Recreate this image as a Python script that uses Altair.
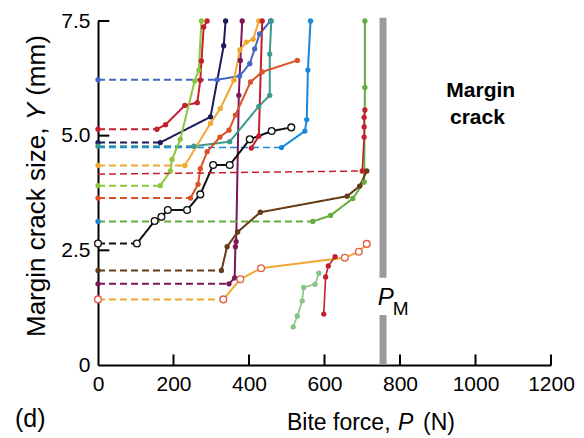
import altair as alt
import pandas as pd

# Bite force P (N) and margin crack size Y (mm) for each specimen.
# Series that start on the axis: the first segment (P = 0 to crack pop-in) is dashed.
blue_P = [0, 316, 375, 402, 415, 428, 457]
blue_Y = [6.22, 6.22, 6.30, 6.57, 6.89, 7.22, 7.50]

red_a_P = [0, 156, 179, 230, 263, 271, 274, 280, 289]
red_a_Y = [5.14, 5.14, 5.24, 5.66, 5.72, 6.21, 6.63, 7.37, 7.50]

navy_P = [0, 165, 298, 333, 338]
navy_Y = [4.85, 4.85, 5.41, 6.96, 7.50]

teal_P = [0, 254, 349, 426, 455, 455, 459]
teal_Y = [4.77, 4.77, 4.87, 5.64, 5.88, 6.78, 7.50]

sky_P = [0, 486, 548, 553, 556, 563]
sky_Y = [4.74, 4.74, 5.10, 5.35, 6.43, 7.50]

amber_P = [0, 230, 298, 324, 360, 376, 393, 411, 426]
amber_Y = [4.35, 4.35, 5.27, 5.59, 6.21, 6.87, 7.04, 7.10, 7.50]

lime_P = [0, 165, 192, 196, 218, 256, 267, 274]
lime_Y = [3.91, 3.91, 4.23, 4.48, 4.92, 6.19, 6.43, 7.50]

rust_P = [0, 245, 265, 271, 289, 323, 347, 364, 404, 435, 528]
rust_Y = [3.64, 3.64, 3.94, 4.28, 4.65, 4.97, 5.12, 5.45, 6.17, 6.39, 6.64]

plum_P = [0, 347, 362, 364, 366, 373, 377, 382]
plum_Y = [1.77, 1.77, 1.90, 2.58, 2.69, 5.88, 6.64, 7.50]

red_b_P = [406, 426, 435]
red_b_Y = [4.73, 4.99, 7.50]

ring_P = [0, 103, 150, 168, 185, 236, 271, 305, 349, 402, 460, 512]
ring_Y = [2.65, 2.65, 3.14, 3.23, 3.38, 3.38, 3.72, 4.36, 4.36, 4.92, 5.10, 5.18]

green_P = [0, 569, 616, 675, 705, 707, 707]
green_Y = [3.13, 3.13, 3.26, 3.63, 3.99, 6.05, 7.50]

brown_P = [0, 327, 342, 370, 430, 660, 693, 712]
brown_Y = [2.06, 2.06, 2.58, 2.90, 3.33, 3.68, 3.90, 4.23]

gold_ring_P = [0, 332, 377, 432, 654, 691, 712]
gold_ring_Y = [1.43, 1.43, 1.87, 2.11, 2.34, 2.47, 2.64]

sage_P = [517, 528, 541, 545, 575, 585]
sage_Y = [0.83, 1.07, 1.40, 1.69, 1.76, 2.00]

red_c_P = [598, 603, 610, 628]
red_c_Y = [1.11, 1.92, 2.16, 2.36]

red_d_P = [0, 700, 705, 705, 705, 707]
red_d_Y = [4.16, 4.23, 4.97, 5.19, 5.40, 5.56]

# Maximum bite force P_M (gray bar, broken around its label)
pm_force = 755
pm_lower = [0.0, 1.09]
pm_upper = [1.90, 7.57]

x_ticks = [0, 200, 400, 600, 800, 1000, 1200]
y_ticks = [0, 2.5, 5.0, 7.5]

SERIES = {
    "plum": (plum_P, plum_Y),
    "blue": (blue_P, blue_Y),
    "red_a": (red_a_P, red_a_Y),
    "navy": (navy_P, navy_Y),
    "teal": (teal_P, teal_Y),
    "sky": (sky_P, sky_Y),
    "amber": (amber_P, amber_Y),
    "lime": (lime_P, lime_Y),
    "rust": (rust_P, rust_Y),
    "red_b": (red_b_P, red_b_Y),
    "ring": (ring_P, ring_Y),
    "green": (green_P, green_Y),
    "brown": (brown_P, brown_Y),
    "gold_ring": (gold_ring_P, gold_ring_Y),
    "sage": (sage_P, sage_Y),
    "red_c": (red_c_P, red_c_Y),
    "red_d": (red_d_P, red_d_Y),
}

RED = "#c4202c"
STYLE = {
    "plum": dict(color="#7c1654", dashed=True, axis="#7c1654"),
    "blue": dict(color="#4468c4", dashed=True, axis="#4468c4"),
    "red_a": dict(color=RED, dashed=True, axis=RED),
    "navy": dict(color="#1c1a5a", dashed=True, axis="#1c1a5a"),
    "teal": dict(color="#3a9a8c", dashed=True, axis="#3a9a8c"),
    "sky": dict(color="#1a88d8", dashed=True, axis=None, dash_w=1.5),
    "amber": dict(color="#f0a830", dashed=True, axis="#f0a830"),
    "lime": dict(color="#8cc63f", dashed=True, axis="#8cc63f"),
    "rust": dict(color="#dc5228", dashed=True, axis="#dc5228"),
    "red_b": dict(color=RED, dashed=False),
    "ring": dict(color="#111111", dashed=True, axis="#111111", ring=True),
    "green": dict(color="#62ad3c", dashed=True, axis="#1a88d8"),
    "brown": dict(color="#653a16", dashed=True, axis="#653a16"),
    "gold_ring": dict(color="#f0a830", marker="#e0604c", dashed=True, axis="#e0604c", ring=True),
    "sage": dict(color="#86c486", dashed=False, w=1.6),
    "red_c": dict(color=RED, dashed=False, w=1.6),
    "red_d": dict(color=RED, dashed=True, axis=None, dash_w=1.5, w=1.6),
}

lines, dots, rings = [], [], []
for name, (ps, ys) in SERIES.items():
    st = STYLE[name]
    first = 1 if st["dashed"] else 0
    if st["dashed"]:
        for i in (0, 1):
            lines.append(dict(key=name + "-d", P=ps[i], Y=ys[i], i=i, color=st["color"],
                              seg="dash", w=st.get("dash_w", 2.0)))
    for i in range(first, len(ps)):
        lines.append(dict(key=name + "-s", P=ps[i], Y=ys[i], i=i, color=st["color"],
                          seg="solid", w=st.get("w", 2.0)))
    marker = st.get("marker", st["color"])
    target = rings if st.get("ring") else dots
    for i in range(first, len(ps)):
        target.append(dict(P=ps[i], Y=ys[i], color=marker))
    if st["dashed"] and st.get("axis"):
        target.append(dict(P=ps[0], Y=ys[0], color=st["axis"]))

df_lines = pd.DataFrame(lines)
df_dots = pd.DataFrame(dots)
df_rings = pd.DataFrame(rings)

FONT = "Liberation Sans"

x_enc = alt.X(
    "P:Q",
    scale=alt.Scale(domain=[0, 1200], nice=False, zero=False),
    axis=alt.Axis(values=x_ticks, format="d", title=None, ticks=False, tickSize=0,
                  labelPadding=8, labelFontSize=21, labelFont=FONT, labelColor="black",
                  labelFlush=False, labelOverlap=False, domainColor="black", domainWidth=2,
                  grid=False),
)
y_enc = alt.Y(
    "Y:Q",
    scale=alt.Scale(domain=[0, 7.5], nice=False, zero=False),
    axis=alt.Axis(values=y_ticks, title=None, ticks=False, tickSize=0,
                  labelExpr="datum.value == 0 ? '0' : format(datum.value, '.1f')",
                  labelPadding=8, labelFontSize=21, labelFont=FONT, labelColor="black",
                  labelFlush=False, labelOverlap=False, domainColor="black", domainWidth=2,
                  grid=False),
)

# gray P_M bar
pm_df = pd.DataFrame({"P": [pm_force, pm_force], "Y": [pm_lower[0], pm_upper[0]],
                      "Y2": [pm_lower[1], pm_upper[1]]})
pm_bar = alt.Chart(pm_df).mark_rule(color="#9a9a9a", strokeWidth=7, strokeCap="butt").encode(
    x=x_enc, y=y_enc, y2="Y2:Q")

line_layer = alt.Chart(df_lines).mark_line(strokeCap="butt", strokeJoin="round").encode(
    x=x_enc, y=y_enc,
    detail="key:N",
    order="i:Q",
    color=alt.Color("color:N", scale=None),
    strokeDash=alt.StrokeDash("seg:N", scale=alt.Scale(domain=["dash", "solid"],
                                                       range=[[7, 4], [1, 0]]), legend=None),
    strokeWidth=alt.StrokeWidth("w:Q", scale=None),
)

dot_layer = alt.Chart(df_dots).mark_circle(size=28, opacity=1).encode(
    x=x_enc, y=y_enc, color=alt.Color("color:N", scale=None))

ring_layer = alt.Chart(df_rings).mark_circle(size=46, opacity=1, fill="white",
                                             strokeWidth=1.3).encode(
    x=x_enc, y=y_enc, stroke=alt.Stroke("color:N", scale=None))

# inward tick marks
xt_df = pd.DataFrame({"P": x_ticks[1:], "Y": [0.0] * 6, "Y2": [0.23] * 6})
x_tick_layer = alt.Chart(xt_df).mark_rule(color="black", strokeWidth=2).encode(
    x=x_enc, y=y_enc, y2="Y2:Q")
yt_df = pd.DataFrame({"P": [0.0] * 3, "P2": [30.0] * 3, "Y": y_ticks[1:]})
y_tick_layer = alt.Chart(yt_df).mark_rule(color="black", strokeWidth=2).encode(
    x=x_enc, x2="P2:Q", y=y_enc)


def label(text, P, Y, size, **kw):
    return alt.Chart(pd.DataFrame({"P": [P], "Y": [Y], "t": [text]})).mark_text(
        font=FONT, fontSize=size, color="black", baseline="alphabetic", **kw).encode(
        x=x_enc, y=y_enc, text="t:N")


def pixel_text(text, x, y, size, **kw):
    return alt.Chart(pd.DataFrame({"t": [text]})).mark_text(
        font=FONT, fontSize=size, color="black", baseline="alphabetic", align="left",
        **kw).encode(x=alt.value(x), y=alt.value(y), text="t:N")


texts = [
    label("Margin", 1014, 5.84, 21, fontWeight="bold", align="center"),
    label("crack", 1005, 5.25, 21, fontWeight="bold", align="center"),
    label("P", 741, 1.31, 24, fontStyle="italic", align="left"),
    label("M", 781, 1.09, 19, align="left"),
    # x-axis title
    pixel_text("Bite force,", 189, 409, 23),
    pixel_text("P", 300, 409, 23, fontStyle="italic"),
    pixel_text("(N)", 325, 409, 23),
    # y-axis title, reading upward
    pixel_text("Margin crack size,", -53, 316, 26, angle=270),
    pixel_text("Y", -53, 99.3, 26, angle=270, fontStyle="italic"),
    pixel_text("(mm)", -53, 74.8, 26, angle=270),
    # panel tag
    pixel_text("(d)", -83, 406, 25),
]

chart = alt.layer(
    pm_bar, line_layer, dot_layer, ring_layer, x_tick_layer, y_tick_layer, *texts
).properties(
    width=453,
    height=344,
    autosize=alt.AutoSizeParams(type="none"),
    padding={"left": 98, "top": 21, "right": 33, "bottom": 73},
    background="white",
).configure_view(stroke=None)

chart.save("out.html", embed_options={"renderer": "svg", "actions": False})
